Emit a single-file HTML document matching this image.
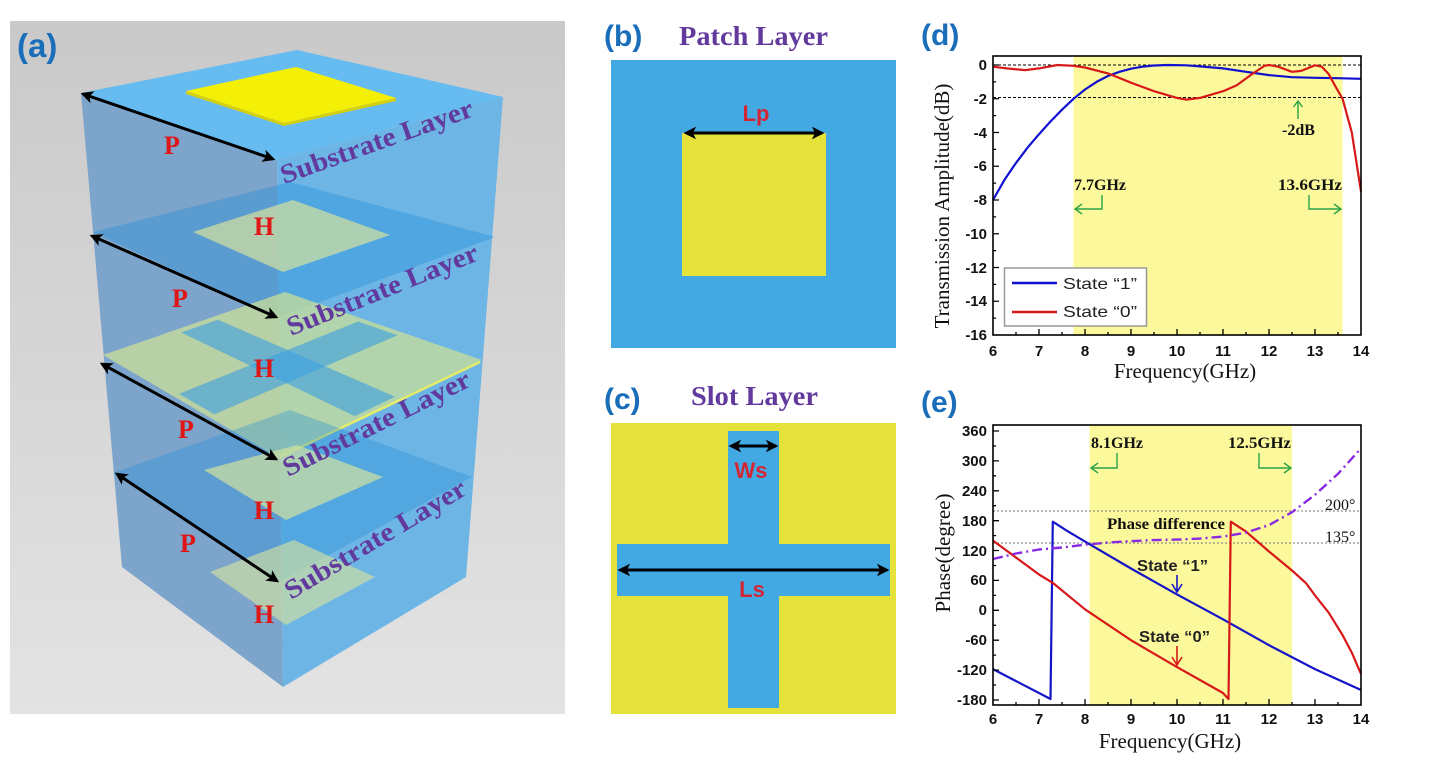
<!DOCTYPE html>
<html><head><meta charset="utf-8"><style>
html,body{margin:0;padding:0;background:#fff;}
svg{display:block;}
.tk{font-family:"Liberation Sans",Arial,sans-serif;font-weight:bold;font-size:15px;fill:#111;}
.ttl{font-family:"Liberation Serif","Times New Roman",serif;font-size:21px;fill:#111;}
.ann{font-family:"Liberation Serif","Times New Roman",serif;font-weight:bold;font-size:16px;fill:#111;}
.lab{font-family:"Liberation Sans",Arial,sans-serif;font-weight:bold;fill:#1a6eb9;}
.sub{font-family:"Liberation Serif","Times New Roman",serif;font-weight:bold;font-size:27px;fill:#62399c;}
.ph{font-family:"Liberation Serif","Times New Roman",serif;font-weight:bold;font-size:26px;fill:#e01515;}
.dim{font-family:"Liberation Sans",Arial,sans-serif;font-weight:bold;font-size:22px;fill:#d42535;}
.leg{font-family:"Liberation Sans",Arial,sans-serif;font-size:16px;fill:#222;}
</style></head><body>
<svg width="1440" height="774" viewBox="0 0 1440 774" xmlns="http://www.w3.org/2000/svg">
<defs>
<linearGradient id="bg" x1="0" y1="0" x2="0" y2="1"><stop offset="0" stop-color="#c9c9c9"/><stop offset="1" stop-color="#e3e3e3"/></linearGradient>
<marker id="ah" viewBox="0 0 10 10" refX="8" refY="5" markerWidth="4.2" markerHeight="4.2" orient="auto-start-reverse"><path d="M0,0 L10,5 L0,10 L2.5,5 z" fill="#000"/></marker>
</defs>
<rect width="1440" height="774" fill="#fff"/>

<!-- ===== Panel (a) ===== -->
<rect x="10" y="21" width="555" height="693" fill="url(#bg)"/>
<polygon points="81,93 277,160 283,687 122,567" fill="#7da5cc"/>
<polygon points="277,160 503,97 466,577 283,687" fill="#6cb5e5"/>
<polygon points="81,93 297,50 503,97 277,160" fill="#66bbf0"/>
<polygon points="186,91 296,67 396,98 284,123" fill="#f3ef06"/>
<polygon points="186,91 284,123 396,98 396,101 284,126 186,94" fill="#d6cf10"/>
<polygon points="93,232 290,182 495,237 277,318" fill="rgba(30,140,215,0.36)"/>
<polygon points="193,232 293,200 390,235 283,272" fill="rgba(210,225,160,0.72)"/>
<polygon points="103,355 285,292 482,360 279,458" fill="rgba(205,225,150,0.72)"/>
<polygon points="181.3,332.5 217.9,319.7 395.1,396.7 354.7,416.1" fill="rgba(60,160,225,0.62)"/>
<polygon points="179.1,393.9 358.1,321.5 397.3,335.3 214.4,414.3" fill="rgba(60,160,225,0.62)"/>
<line x1="280" y1="457" x2="480" y2="362" stroke="#e5ec6a" stroke-width="2.5"/>
<polygon points="113,473 290,410 472,477 279,582" fill="rgba(30,140,215,0.33)"/>
<polygon points="204,470 297,445 383,477 286,520" fill="rgba(210,225,160,0.7)"/>
<polygon points="210,572 294,540 375,577 286,625" fill="rgba(210,225,160,0.65)"/>
<g stroke="#000" stroke-width="3" marker-start="url(#ah)" marker-end="url(#ah)">
<line x1="83" y1="94" x2="273" y2="159"/>
<line x1="92" y1="236" x2="276" y2="317"/>
<line x1="102" y1="364" x2="276" y2="459"/>
<line x1="117" y1="474" x2="277" y2="581"/>
</g>
<text class="ph" x="172" y="154" text-anchor="middle">P</text>
<text class="ph" x="180" y="307" text-anchor="middle">P</text>
<text class="ph" x="186" y="438" text-anchor="middle">P</text>
<text class="ph" x="188" y="552" text-anchor="middle">P</text>
<text class="ph" x="264" y="235" text-anchor="middle">H</text>
<text class="ph" x="264" y="377" text-anchor="middle">H</text>
<text class="ph" x="264" y="519" text-anchor="middle">H</text>
<text class="ph" x="264" y="623" text-anchor="middle">H</text>
<text class="sub" transform="translate(284,184) rotate(-19.7)" textLength="203" lengthAdjust="spacingAndGlyphs">Substrate Layer</text>
<text class="sub" transform="translate(291,336) rotate(-22)" textLength="204" lengthAdjust="spacingAndGlyphs">Substrate Layer</text>
<text class="sub" transform="translate(288,477) rotate(-26.4)" textLength="206" lengthAdjust="spacingAndGlyphs">Substrate Layer</text>
<text class="sub" transform="translate(291,600) rotate(-31)" textLength="207" lengthAdjust="spacingAndGlyphs">Substrate Layer</text>
<text class="lab" x="17" y="57" font-size="33">(a)</text>

<!-- ===== Panel (b) ===== -->
<text class="lab" x="604" y="46" font-size="30">(b)</text>
<text class="sub" x="679" y="45" textLength="149" lengthAdjust="spacingAndGlyphs">Patch Layer</text>
<rect x="611" y="60" width="285" height="288" fill="#42a9e3"/>
<rect x="682" y="133" width="144" height="143" fill="#e5e23c"/>
<line x1="686" y1="133" x2="822" y2="133" stroke="#000" stroke-width="3" marker-start="url(#ah)" marker-end="url(#ah)"/>
<text class="dim" x="756" y="121" text-anchor="middle">Lp</text>

<!-- ===== Panel (c) ===== -->
<text class="lab" x="604" y="409" font-size="30">(c)</text>
<text class="sub" x="691" y="405" textLength="127" lengthAdjust="spacingAndGlyphs">Slot Layer</text>
<rect x="611" y="423" width="285" height="291" fill="#e5e23c"/>
<rect x="728" y="431" width="51" height="277" fill="#42a9e3"/>
<rect x="617" y="544" width="273" height="52" fill="#42a9e3"/>
<line x1="731" y1="446" x2="776" y2="446" stroke="#000" stroke-width="3" marker-start="url(#ah)" marker-end="url(#ah)"/>
<line x1="620" y1="570" x2="887" y2="570" stroke="#000" stroke-width="3" marker-start="url(#ah)" marker-end="url(#ah)"/>
<text class="dim" x="751" y="478" text-anchor="middle">Ws</text>
<text class="dim" x="752" y="597" text-anchor="middle">Ls</text>

<!-- ===== Panel (d) ===== -->
<text class="lab" x="921" y="45" font-size="30">(d)</text>
<rect x="1073.5" y="56" width="269" height="279" fill="#fbf99b"/>
<g stroke="#000" stroke-width="1" stroke-dasharray="3,2">
<line x1="993" y1="65" x2="1361" y2="65"/>
<line x1="993" y1="97.5" x2="1361" y2="97.5"/>
</g>
<polyline fill="none" stroke="#1010d0" stroke-width="2.2" stroke-linejoin="round" points="993,200 1004.5,179.8 1016,162.9 1027.5,147.7 1039,134.2 1050.5,121.5 1062,109.7 1073.5,98.8 1085,89.5 1096.5,81.9 1108,76 1119.5,71.8 1131,68.7 1142.5,66.7 1154,65.5 1167.8,65 1186.2,65.3 1200,66.4 1223,68.4 1246,71.8 1269,75.1 1292,77.2 1315,77.8 1338,78.2 1361,78.8"/>
<polyline fill="none" stroke="#d81818" stroke-width="2.2" stroke-linejoin="round" points="993,66.7 1006.8,68.4 1025.2,70.1 1039,68.4 1057.4,65 1073.5,65.8 1085,67.5 1108,73.4 1131,82.7 1154,91.2 1177,97.9 1186.2,99.6 1200,97.9 1223,91.2 1236.8,85.3 1250.6,75.1 1264.4,65.8 1269,65 1278.2,66.7 1292,71.8 1301.2,70.9 1315,65.3 1321.9,66.7 1328.8,74.3 1335.7,86.9 1342.6,98.8 1351.8,132.5 1361,191.6"/>
<rect x="993" y="56" width="368" height="279" fill="none" stroke="#000" stroke-width="1.6"/>
<g stroke="#000" stroke-width="1.3">
<path d="M993,65h6M993,98.75h6M993,132.5h6M993,166.25h6M993,200h6M993,233.75h6M993,267.5h6M993,301.25h6M993,81.9h3M993,115.6h3M993,149.4h3M993,183.1h3M993,216.9h3M993,250.6h3M993,284.4h3M993,318.1h3"/>
<path d="M1039,335v-6M1085,335v-6M1131,335v-6M1177,335v-6M1223,335v-6M1269,335v-6M1315,335v-6M1016,335v-3M1062,335v-3M1108,335v-3M1154,335v-3M1200,335v-3M1246,335v-3M1292,335v-3M1338,335v-3"/>
</g>
<g class="tk" text-anchor="end">
<text x="987" y="70">0</text><text x="987" y="104">-2</text><text x="987" y="138">-4</text><text x="987" y="171">-6</text><text x="987" y="205">-8</text><text x="987" y="239">-10</text><text x="987" y="273">-12</text><text x="987" y="306">-14</text><text x="987" y="340">-16</text>
</g>
<g class="tk" text-anchor="middle">
<text x="993" y="356">6</text><text x="1039" y="356">7</text><text x="1085" y="356">8</text><text x="1131" y="356">9</text><text x="1177" y="356">10</text><text x="1223" y="356">11</text><text x="1269" y="356">12</text><text x="1315" y="356">13</text><text x="1361" y="356">14</text>
</g>
<text class="ttl" x="1185" y="378" text-anchor="middle">Frequency(GHz)</text>
<text class="ttl" transform="translate(949,206) rotate(-90)" text-anchor="middle">Transmission Amplitude(dB)</text>
<rect x="1004.5" y="268" width="142" height="58" fill="#fff" stroke="#999" stroke-width="1.5"/>
<line x1="1012" y1="283" x2="1057" y2="283" stroke="#1010d0" stroke-width="2.5"/>
<line x1="1012" y1="312" x2="1057" y2="312" stroke="#d81818" stroke-width="2.5"/>
<text class="leg" x="1063" y="289" textLength="74" lengthAdjust="spacingAndGlyphs">State “1”</text>
<text class="leg" x="1063" y="317" textLength="74" lengthAdjust="spacingAndGlyphs">State “0”</text>
<text class="ann" x="1074" y="190">7.7GHz</text>
<text class="ann" x="1278" y="190" textLength="64" lengthAdjust="spacingAndGlyphs">13.6GHz</text>
<text class="ann" x="1282" y="135">-2dB</text>
<g fill="none" stroke="#2aa34a" stroke-width="1.4">
<polyline points="1102,195 1102,209 1075,209"/><polyline points="1082,204 1075,209 1082,214"/>
<polyline points="1309,195 1309,209 1341,209"/><polyline points="1334,204 1341,209 1334,214"/>
<line x1="1298" y1="119" x2="1298" y2="101"/><polyline points="1293.5,107 1298,101 1302.5,107"/>
</g>

<!-- ===== Panel (e) ===== -->
<text class="lab" x="921" y="412" font-size="30">(e)</text>
<rect x="1089.6" y="425" width="202.4" height="280" fill="#fbf99b"/>
<g stroke="#777" stroke-width="1" stroke-dasharray="2,2">
<line x1="993" y1="511" x2="1361" y2="511"/>
<line x1="993" y1="543" x2="1361" y2="543"/>
</g>
<polyline fill="none" stroke="#1414c8" stroke-width="2.2" stroke-linejoin="round" points="993,669.1 1050.5,699 1052.8,521.7 1066.6,530.6 1085,541.6 1131,568.5 1177,594.4 1223,619.3 1269,645.2 1315,669.1 1361,690"/>
<polyline fill="none" stroke="#d81818" stroke-width="2.2" stroke-linejoin="round" points="993,540.6 1039,574.5 1052.8,582.9 1085,609.3 1131,640.2 1177,667.1 1223,693 1228.5,699 1230.8,521.7 1246,531.6 1269,551.5 1292,570.5 1305.8,582.9 1315,595.4 1328.8,612.8 1342.6,635.2 1351.8,652.6 1361,674"/>
<polyline fill="none" stroke="#8a2be2" stroke-width="2.4" stroke-dasharray="10,4,2,4" stroke-linejoin="round" points="993,559 1016,553.5 1039,549.5 1062,547.5 1085,544.6 1108,542.6 1131,541.1 1154,540.1 1177,539.6 1200,538.6 1223,536.6 1246,532.6 1269,525.1 1292,512.2 1315,494.8 1338,473.8 1361,448.4"/>
<rect x="993" y="425" width="368" height="280" fill="none" stroke="#000" stroke-width="1.6"/>
<g stroke="#000" stroke-width="1.3">
<path d="M993,431h6M993,460.9h6M993,490.8h6M993,520.7h6M993,550.5h6M993,580.4h6M993,610.3h6M993,640.2h6M993,670.1h6M993,700h6M993,446h3M993,475.8h3M993,505.7h3M993,535.6h3M993,565.5h3M993,595.4h3M993,625.3h3M993,655.1h3M993,685h3"/>
<path d="M1039,705v-6M1085,705v-6M1131,705v-6M1177,705v-6M1223,705v-6M1269,705v-6M1315,705v-6M1016,705v-3M1062,705v-3M1108,705v-3M1154,705v-3M1200,705v-3M1246,705v-3M1292,705v-3M1338,705v-3"/>
</g>
<g class="tk" text-anchor="end">
<text x="987" y="436">360</text><text x="987" y="466">300</text><text x="987" y="496">240</text><text x="987" y="526">180</text><text x="987" y="556">120</text><text x="987" y="585">60</text><text x="987" y="615">0</text><text x="987" y="645">-60</text><text x="987" y="675">-120</text><text x="987" y="705">-180</text>
</g>
<g class="tk" text-anchor="middle">
<text x="993" y="724">6</text><text x="1039" y="724">7</text><text x="1085" y="724">8</text><text x="1131" y="724">9</text><text x="1177" y="724">10</text><text x="1223" y="724">11</text><text x="1269" y="724">12</text><text x="1315" y="724">13</text><text x="1361" y="724">14</text>
</g>
<text class="ttl" x="1170" y="748" text-anchor="middle">Frequency(GHz)</text>
<text class="ttl" transform="translate(950,553) rotate(-90)" text-anchor="middle">Phase(degree)</text>
<text class="ann" x="1091" y="448">8.1GHz</text>
<text class="ann" x="1228" y="448" textLength="63" lengthAdjust="spacingAndGlyphs">12.5GHz</text>
<text class="ann" x="1107" y="529" textLength="118" lengthAdjust="spacingAndGlyphs">Phase difference</text>
<text x="1325" y="510" font-family="Liberation Serif, serif" font-size="16" fill="#111">200°</text>
<text x="1325" y="542" font-family="Liberation Serif, serif" font-size="16" fill="#111">135°</text>
<g fill="none" stroke="#2aa34a" stroke-width="1.4">
<polyline points="1117,453 1117,468 1091,468"/><polyline points="1098,463 1091,468 1098,473"/>
<polyline points="1259,453 1259,468 1291,468"/><polyline points="1284,463 1291,468 1284,473"/>
</g>
<text class="leg" x="1137" y="571" font-weight="bold" textLength="71" lengthAdjust="spacingAndGlyphs">State “1”</text>
<text class="leg" x="1139" y="642" font-weight="bold" textLength="71" lengthAdjust="spacingAndGlyphs">State “0”</text>
<g fill="none" stroke-width="1.6">
<line x1="1177" y1="575" x2="1177" y2="592" stroke="#1414c8"/><polyline points="1172,584 1177,592 1182,584" stroke="#1414c8"/>
<line x1="1177" y1="646" x2="1177" y2="665" stroke="#d81818"/><polyline points="1172,657 1177,665 1182,657" stroke="#d81818"/>
</g>
</svg>
</body></html>
